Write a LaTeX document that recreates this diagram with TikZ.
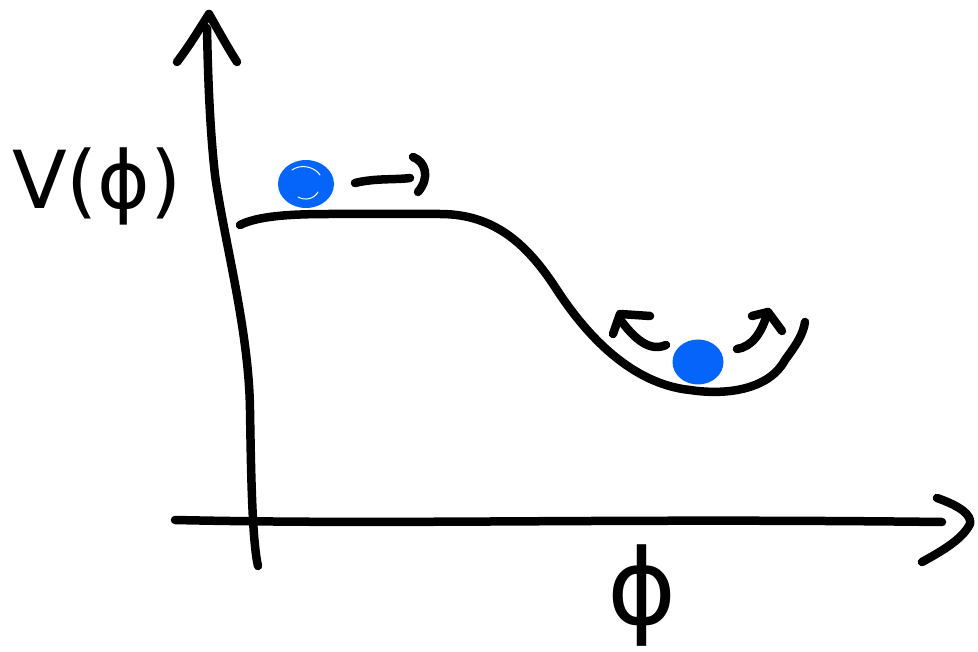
\documentclass[tikz,border=0pt]{standalone}
\usepackage{fontspec}
\setmainfont{DejaVu Sans}
\usepackage{tikz}
\usetikzlibrary{shapes.geometric}
\definecolor{ballblue}{RGB}{5,100,250}
\tikzset{
  stroke/.style={line width=8.5pt, line cap=round, line join=round, black},
  ball/.style={fill=ballblue, draw=none},
  lbl/.style={inner sep=0pt, anchor=center}
}
\begin{document}
\begin{tikzpicture}[x=1pt,y=-1pt]
\useasboundingbox (0,0) rectangle (978,652);
% axes
\coordinate (yb) at (258,566);
\coordinate (yt) at (207,28);
\coordinate (ya) at (209,14);
\draw[stroke] (yb) .. controls (252,540) and (251,470) .. (250,410)
  .. controls (249,330) and (224,240) .. (215,175)
  .. controls (210,130) and (208,80) .. (yt);
\draw[stroke] (177,62) .. controls (190,45) and (200,28) .. (ya) .. controls (218,30) and (228,48) .. (237,62);
\coordinate (xl) at (175,520);
\coordinate (xr) at (942,522);
\draw[stroke] (xl) .. controls (400,525) and (600,518) .. (xr);
\draw[stroke] (937,498) .. controls (960,506) and (972,515) .. (970,524) .. controls (962,540) and (940,552) .. (922,562);
% potential curve
\draw[stroke] (240,225) .. controls (258,216) and (290,214) .. (330,214)
  -- (440,214) .. controls (495,214) and (528,245) .. (557,290)
  .. controls (587,336) and (632,384) .. (690,390)
  .. controls (730,396) and (770,388) .. (785,360)
  .. controls (796,345) and (803,335) .. (805,322);
% balls
\node[ball, ellipse, minimum width=56pt, minimum height=48pt, inner sep=0pt] (b1) at (306,184) {};
\draw[white, line width=1pt, line cap=round] (292,170) .. controls (300,164) and (314,166) .. (320,175);
\draw[white, line width=1pt, line cap=round] (298,197) .. controls (305,201) and (314,199) .. (318,192);
\node[ball, ellipse, minimum width=51pt, minimum height=45pt, inner sep=0pt] (b2) at (698,362) {};
% arrow near ball 1
\draw[stroke] (355,183) .. controls (375,178) and (395,180) .. (410,178);
\draw[stroke] (413,157) .. controls (426,162) and (430,178) .. (418,192);
% arrows near ball 2
\draw[stroke] (666,345) .. controls (650,352) and (635,340) .. (619,318);
\draw[stroke] (650,316) -- (620,314) -- (613,334);
\draw[stroke] (737,349) .. controls (752,347) and (762,332) .. (767,314);
\draw[stroke] (752,316) -- (768,312) -- (782,331);
% labels
\node[lbl] (vlab) at (97,186) {\fontsize{80}{90}\selectfont V(ϕ)};
\node[lbl] (plab) at (642,596) {\fontsize{105}{110}\selectfont ϕ};
\end{tikzpicture}
\end{document}
